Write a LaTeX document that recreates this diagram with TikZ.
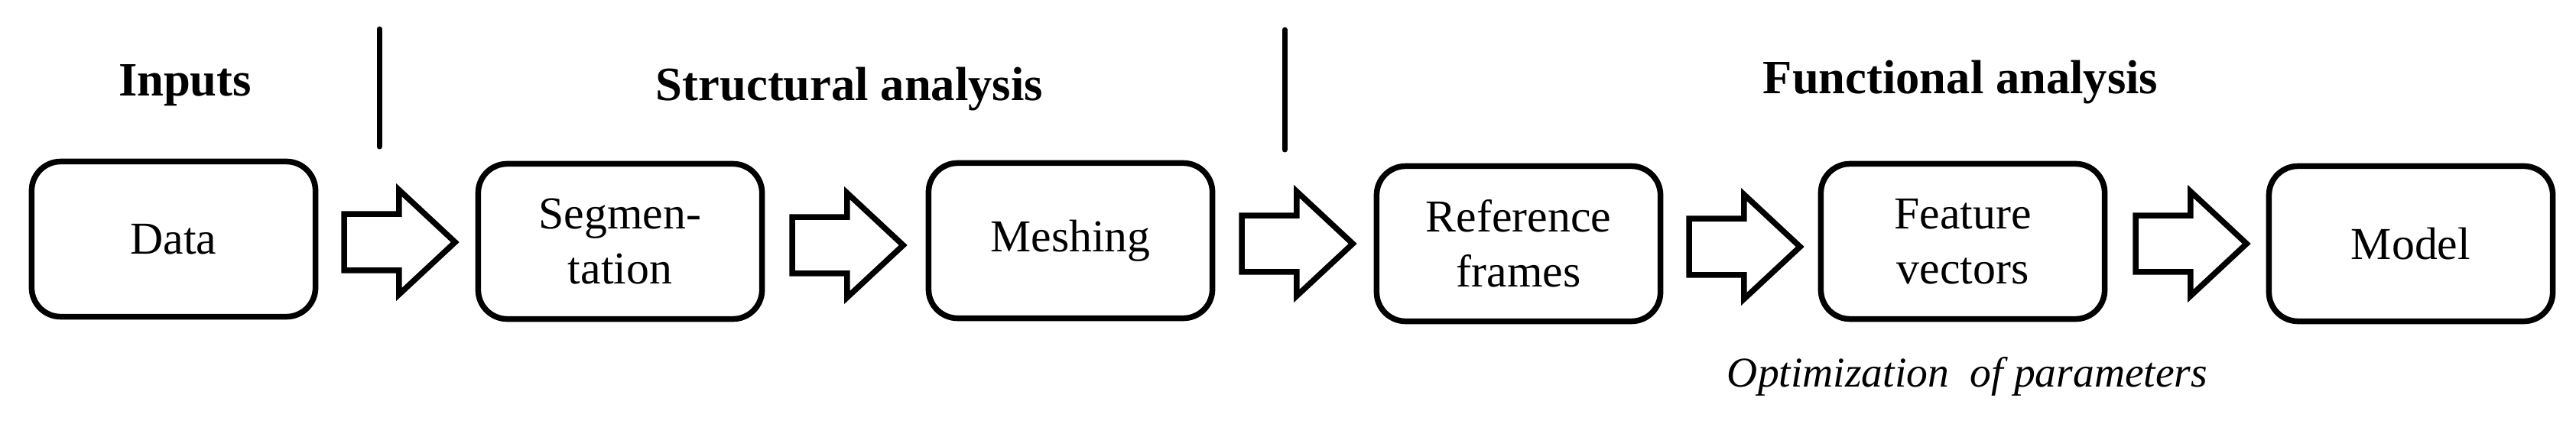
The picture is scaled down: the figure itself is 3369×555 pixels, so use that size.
\documentclass[tikz,border=0pt]{standalone}
\usepackage{fontspec}
\setmainfont{Liberation Serif}
\usepackage{tikz}
\usetikzlibrary{shapes.arrows,calc}

\begin{document}
\begin{tikzpicture}[x=0.01cm,y=-0.01cm,
 stage/.style={draw,rectangle,rounded corners=0.38cm,line width=0.075cm,minimum width=3.71cm,minimum height=2.03cm,align=center,font=\fontsize{17}{20.5}\selectfont},
 blockarrow/.style={draw,single arrow,anchor=tail,line width=0.075cm,inner sep=0pt,text height=0.66cm,text depth=0pt,single arrow head extend=0.315cm,single arrow tip angle=86,minimum height=1.45cm},
 heading/.style={anchor=base,font=\fontsize{17.8}{20}\selectfont\bfseries},
 sepline/.style={line width=0.07cm,line cap=round}]
\useasboundingbox (0,0) rectangle (3369,555);

%\draw [thick,red,dashed] (0,0) rectangle (3369,555);
\node [heading] (inp) at(242,126){Inputs};
\node [heading] (sta) at(1111,132){Structural analysis};
\node [heading] (fua) at(2564,123){Functional analysis};

\draw [sepline] (496,38) -- (496,192);
\draw [sepline] (1680,39) -- (1680,196);

\node [stage] (data) at(227,313){Data};
\node [stage] (seg) at(811,316){Segmen-\\tation};
\node [stage] (mesh) at(1400,315){Meshing};
\node [stage] (rf) at(1986,319){Reference\\frames};
\node [stage] (fv) at(2567,316){Feature\\vectors};
\node [stage] (model) at(3153,319){Model};

\node [blockarrow] (a1) at($(data.east)+(30,4)$){};
\node [blockarrow] (a2) at($(seg.east)+(32,5)$){};
\node [blockarrow] (a3) at($(mesh.east)+(31,4)$){};
\node [blockarrow] (a4) at($(rf.east)+(30,4)$){};
\node [blockarrow] (a5) at($(fv.east)+(33,3)$){};

\node [anchor=base,font=\fontsize{15.8}{20}\selectfont\itshape] (opt) at(2573,507){Optimization~~of parameters};

\end{tikzpicture}
\end{document}
